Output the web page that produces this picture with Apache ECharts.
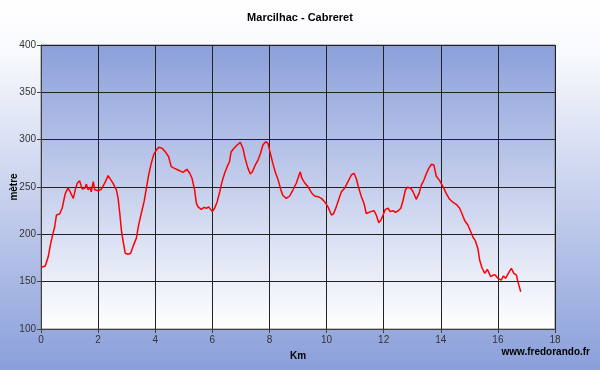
<!DOCTYPE html>
<html>
<head>
<meta charset="utf-8">
<script src="https://cdn.jsdelivr.net/npm/echarts@6/dist/echarts.min.js"></script>
<style>
html,body{margin:0;padding:0;}
#chart{width:600px;height:370px;}
</style>
</head>
<body>
<div id="chart"></div>
<script>
var chartTitle = 'Marcilhac - Cabreret';
var xName = 'Km';
var yName = 'mètre';
var credit = 'www.fredorando.fr';

var distanceKm = [0, 0.15, 0.25, 0.34, 0.42, 0.48, 0.54, 0.65, 0.74, 0.8, 0.85, 0.95, 1.02, 1.13, 1.2, 1.27, 1.35, 1.44, 1.53, 1.59, 1.65, 1.7, 1.76, 1.83, 1.88, 2.0, 2.11, 2.23, 2.35, 2.4, 2.52, 2.64, 2.7, 2.76, 2.81, 2.84, 2.9, 2.95, 3.05, 3.14, 3.22, 3.34, 3.42, 3.51, 3.61, 3.69, 3.77, 3.86, 3.95, 4.04, 4.12, 4.24, 4.35, 4.47, 4.56, 4.68, 4.8, 4.97, 5.11, 5.21, 5.29, 5.38, 5.44, 5.5, 5.61, 5.71, 5.79, 5.87, 5.94, 6.0, 6.08, 6.17, 6.26, 6.34, 6.43, 6.52, 6.6, 6.66, 6.76, 6.87, 6.98, 7.07, 7.15, 7.25, 7.33, 7.4, 7.5, 7.6, 7.69, 7.77, 7.87, 7.95, 8.03, 8.12, 8.2, 8.3, 8.39, 8.47, 8.59, 8.71, 8.82, 8.94, 9.02, 9.08, 9.14, 9.23, 9.35, 9.47, 9.58, 9.7, 9.82, 9.93, 10.05, 10.17, 10.25, 10.34, 10.44, 10.52, 10.64, 10.75, 10.87, 10.96, 11.04, 11.13, 11.22, 11.31, 11.39, 11.45, 11.55, 11.66, 11.74, 11.83, 11.9, 11.98, 12.06, 12.15, 12.23, 12.33, 12.41, 12.5, 12.6, 12.68, 12.76, 12.83, 12.95, 13.03, 13.14, 13.24, 13.32, 13.41, 13.49, 13.58, 13.67, 13.76, 13.84, 13.96, 14.02, 14.11, 14.19, 14.31, 14.43, 14.54, 14.66, 14.74, 14.84, 14.95, 15.05, 15.13, 15.21, 15.3, 15.36, 15.44, 15.54, 15.63, 15.68, 15.75, 15.83, 15.91, 16.0, 16.12, 16.19, 16.27, 16.35, 16.47, 16.56, 16.65, 16.7, 16.8];
var altitudeM = [165, 166.5, 176, 190.5, 201, 208, 220.4, 221.5, 227.5, 236, 243, 249, 245, 238, 247, 254, 256.7, 248, 248.6, 253, 247, 250, 245, 255.6, 247, 246, 247.6, 254, 262, 261.6, 254, 247, 238, 222, 206, 199, 188.7, 180, 179, 180, 187, 196, 210, 222, 234.5, 248.6, 262.7, 275, 284.5, 289, 292, 291, 287.3, 282, 271.5, 269.7, 268, 265.5, 268.7, 264.5, 259, 247, 233, 229, 226.4, 228.5, 227.5, 229, 227.5, 224, 227.5, 234.5, 245, 255.6, 264.5, 271.5, 276.7, 287.3, 291, 294.4, 297.2, 291, 280, 269.7, 263.7, 266, 273, 278.5, 285.6, 294.4, 297.9, 296, 285.6, 275, 266, 258, 248, 241, 238, 240.5, 246.8, 254, 261, 266, 259, 254.6, 250.3, 244, 240.5, 239.8, 238, 234.5, 229, 220.4, 222, 229, 238, 245, 249, 255.6, 262.7, 264.5, 259, 248.6, 239.8, 232.8, 222, 220.4, 224, 225, 220.4, 212.3, 215, 220.4, 226.4, 227.5, 224, 225, 223.3, 224.6, 227.5, 236, 246.8, 249.7, 248.6, 245, 237, 243.3, 252, 257.4, 263.7, 269.7, 274, 273.2, 261.6, 256.7, 255, 248.6, 243.3, 237, 233.8, 231.7, 227.5, 222, 214.4, 209.9, 202.8, 196.9, 193.3, 185, 172.9, 165, 158.8, 163, 162.3, 155.2, 157, 157, 153.5, 151.8, 156, 153.5, 158, 164, 158.8, 157, 150, 139.4];

var xTicks = [0, 2, 4, 6, 8, 10, 12, 14, 16, 18];
var yTicks = [100, 150, 200, 250, 300, 350, 400];

var points = distanceKm.map(function (d, i) { return [d, altitudeM[i]]; });

var chart = echarts.init(document.getElementById('chart'), null, {renderer: 'canvas'});
var font = 'Liberation Sans, Arial, sans-serif';
chart.setOption({
  animation: false,
  backgroundColor: {
    type: 'linear', x: 0, y: 0, x2: 0, y2: 1,
    colorStops: [{offset: 0, color: '#ffffff'}, {offset: 0.15, color: '#f8f9fd'}, {offset: 1, color: '#8a9fda'}]
  },
  title: {
    text: chartTitle, left: 'center', top: 7,
    textStyle: {fontFamily: font, fontSize: 11, fontWeight: 'bold', color: '#000'}
  },
  graphic: [
    {type: 'text', right: 10, top: 347, style: {text: credit, font: 'bold 10px ' + font, fill: '#000'}}
  ],
  grid: {
    left: 41, right: 45, top: 45, bottom: 41,
    containLabel: false,
    outerBoundsMode: 'none',
    show: true,
    borderColor: '#808080', borderWidth: 1,
    backgroundColor: {
      type: 'linear', x: 0, y: 0, x2: 0, y2: 1,
      colorStops: [{offset: 0, color: '#8b9fda'}, {offset: 1, color: '#ffffff'}]
    }
  },
  xAxis: {
    type: 'value', min: 0, max: 18, interval: 2,
    name: xName, nameLocation: 'middle', nameGap: 22, nameMoveOverlap: false,
    nameTextStyle: {fontFamily: font, fontSize: 10, fontWeight: 'bold', color: '#000'},
    axisLine: {show: true, lineStyle: {color: '#404040', width: 1}},
    axisTick: {show: true, length: 4, lineStyle: {color: '#404040'}},
    axisLabel: {fontFamily: font, fontSize: 10, color: '#333', margin: 6},
    splitLine: {show: true, lineStyle: {color: '#222', width: 1}}
  },
  yAxis: {
    type: 'value', min: 100, max: 400, interval: 50,
    name: yName, nameLocation: 'middle', nameGap: 22, nameRotate: 90, nameMoveOverlap: false,
    nameTextStyle: {fontFamily: font, fontSize: 10, fontWeight: 'bold', color: '#000'},
    axisLine: {show: true, lineStyle: {color: '#404040', width: 1}},
    axisTick: {show: true, length: 4, lineStyle: {color: '#404040'}},
    axisLabel: {fontFamily: font, fontSize: 10, color: '#333', margin: 5},
    splitLine: {show: true, lineStyle: {color: '#222', width: 1}}
  },
  series: [{
    type: 'line', data: points, showSymbol: false, symbol: 'none',
    lineStyle: {color: '#ff0000', width: 1.5}, smooth: false
  }]
});
</script>
</body>
</html>
